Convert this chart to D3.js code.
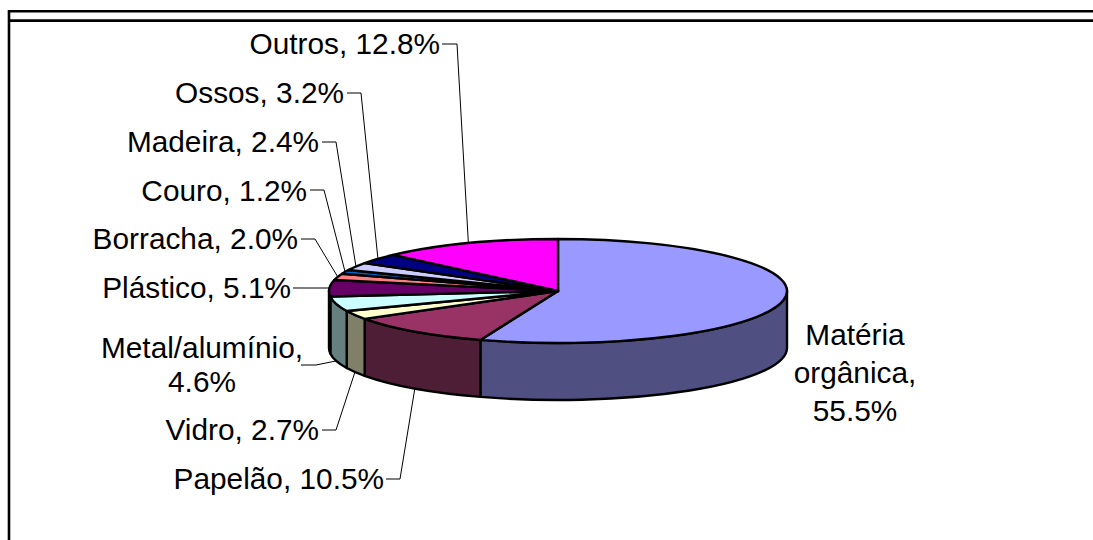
<!DOCTYPE html>
<html>
<head>
<meta charset="utf-8">
<script src="https://cdnjs.cloudflare.com/ajax/libs/d3/7.8.5/d3.min.js"></script>
<style>
  html, body { margin: 0; padding: 0; background: #fff; overflow: hidden; }
  svg { display: block; }
  text { font-family: "Liberation Sans", Arial, sans-serif; font-size: 29.8px; fill: #000; }
  .leader { fill: none; stroke: #000; stroke-width: 1; }
  .top { stroke: #000; stroke-width: 2.4; stroke-linejoin: round; vector-effect: non-scaling-stroke; }
  .side { stroke: #000; stroke-width: 2.4; stroke-linejoin: round; }
</style>
</head>
<body>
<script>
// data
var categories = ["Matéria orgânica", "Papelão", "Vidro", "Metal/alumínio", "Plástico", "Borracha", "Couro", "Madeira", "Ossos", "Outros"];
var values = [55.5, 10.5, 2.7, 4.6, 5.1, 2.0, 1.2, 2.4, 3.2, 12.8];
var topColors = ["#9999ff", "#993366", "#ffffcc", "#ccffff", "#660066", "#ff8080", "#0066cc", "#ccccff", "#000080", "#ff00ff"];
var sideColors = ["#4f4f82", "#4d1e36", "#808068", "#668080", "#360036", "#804040", "#003366", "#666680", "#000040", "#800080"];

// label layout: text lines, text x / anchor, baselines, elbow of the leader
var labelLines = [["Matéria", "orgânica,", "55.5%"], ["Papelão, 10.5%"], ["Vidro, 2.7%"], ["Metal/alumínio,", "4.6%"], ["Plástico, 5.1%"], ["Borracha, 2.0%"], ["Couro, 1.2%"], ["Madeira, 2.4%"], ["Ossos, 3.2%"], ["Outros, 12.8%"]];
var labelX = [855, 384, 319, 202, 291, 298, 307, 319, 344, 440];
var labelY = [345, 489, 440, 358, 298, 249, 201, 152, 103, 54];
var labelAnchor = ["middle", "end", "end", "middle", "end", "end", "end", "end", "end", "end"];
var stubStart = [null, 386, 322, 301, 293, 301, 310, 322, 347, 442];
var stubEnd = [null, 400, 336, 316, 328, 315, 324, 336, 361, 457];
var stubY = [null, 479, 430, 365, 288, 239, 190, 142, 93, 44];
var lineStep = [38, 0, 0, 34, 0, 0, 0, 0, 0, 0];

var width = 1093, height = 540;
var cx = 558, cy = 291, rx = 229, ry = 52, depth = 57;

var svg = d3.select("body").append("svg").attr("width", width).attr("height", height);

// frame
svg.append("path").attr("d", "M9," + height + "V11.3H" + width).attr("fill", "none").attr("stroke", "#000").attr("stroke-width", 2.6);
svg.append("line").attr("x1", 9).attr("x2", width).attr("y1", 20.6).attr("y2", 20.6).attr("stroke", "#000").attr("stroke-width", 2.6);

var pie = d3.pie().sort(null).value(function (d) { return d; });
var arcs = pie(values);

function px(a) { return cx + rx * Math.sin(a); }
function py(a) { return cy - ry * Math.cos(a); }

// front wall, only the part between 90 and 270 degrees shows
var front = svg.append("g");
arcs.forEach(function (d, i) {
  var a0 = Math.max(d.startAngle, Math.PI / 2), a1 = Math.min(d.endAngle, Math.PI * 1.5);
  if (a1 <= a0) return;
  var p = "M" + px(a0) + "," + py(a0) +
    "A" + rx + "," + ry + " 0 0 1 " + px(a1) + "," + py(a1) +
    "V" + (py(a1) + depth) +
    "A" + rx + "," + ry + " 0 0 0 " + px(a0) + "," + (py(a0) + depth) + "Z";
  front.append("path").attr("class", "side").attr("d", p).attr("fill", sideColors[i]);
});

// top face, a circle squashed to the ellipse
var arc = d3.arc().innerRadius(0).outerRadius(rx);
svg.append("g")
  .attr("transform", "translate(" + cx + "," + cy + ") scale(1," + ry / rx + ")")
  .selectAll("path")
  .data(arcs)
  .enter()
  .append("path")
  .attr("class", "top")
  .attr("d", arc)
  .attr("fill", function (d, i) { return topColors[i]; });

// leaders
arcs.forEach(function (d, i) {
  if (stubStart[i] == null) return;
  var m = (d.startAngle + d.endAngle) / 2;
  var ax = px(m), ay = py(m);
  // slices on the front hang their leader from the bottom of the wall
  if (Math.cos(m) < 0) ay += depth;
  svg.append("path").attr("class", "leader")
    .attr("d", "M" + stubStart[i] + "," + stubY[i] + "H" + stubEnd[i] + "L" + ax + "," + ay);
});

// labels
arcs.forEach(function (d, i) {
  var t = svg.append("text").attr("text-anchor", labelAnchor[i]);
  labelLines[i].forEach(function (s, j) {
    t.append("tspan").attr("x", labelX[i]).attr("y", labelY[i] + j * lineStep[i]).text(s);
  });
});
</script>
</body>
</html>
